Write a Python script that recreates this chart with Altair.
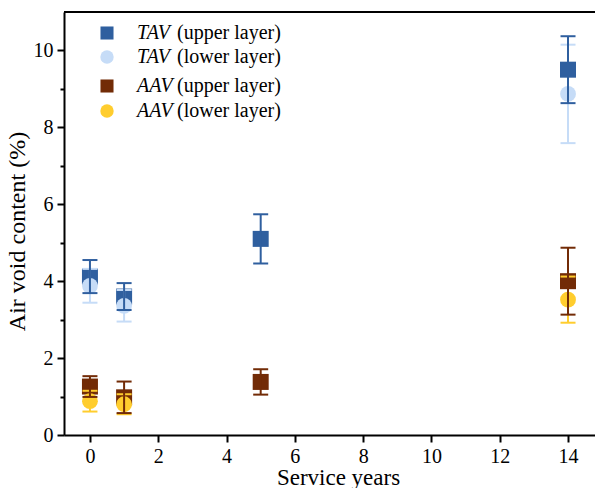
import altair as alt
import pandas as pd

# ---- data ----
years_tav_up = [0, 1, 5, 14]
tav_up = [4.12, 3.60, 5.10, 9.50]
tav_up_err = [0.43, 0.35, 0.64, 0.87]

years_tav_lo = [0, 1, 14]
tav_lo = [3.88, 3.36, 8.87]
tav_lo_err = [0.44, 0.41, 1.28]

years_aav_up = [0, 1, 5, 14]
aav_up = [1.26, 0.98, 1.38, 4.00]
aav_up_err = [0.27, 0.41, 0.33, 0.87]

years_aav_lo = [0, 1, 14]
aav_lo = [0.88, 0.80, 3.52]
aav_lo_err = [0.27, 0.26, 0.60]

x_ticks = list(range(0, 15))
y_ticks = list(range(0, 11))

FONT = "Liberation Serif"
C_TAV_UP = "#2F5F9F"
C_TAV_LO = "#C6DCF7"
C_AAV_UP = "#722B06"
C_AAV_LO = "#FFCD2E"


def frame(years, vals, errs):
    return pd.DataFrame({
        "year": years,
        "val": vals,
        "lo": [v - e for v, e in zip(vals, errs)],
        "hi": [v + e for v, e in zip(vals, errs)],
    })


xscale = alt.Scale(domain=[-0.76, 14.79], nice=False, zero=False)
yscale = alt.Scale(domain=[0, 11], nice=False)

tick_size = {"condition": {"test": "datum.value % 2 === 0", "value": 7}, "value": 4}

xaxis = alt.Axis(values=x_ticks, labelExpr="datum.value % 2 === 0 ? datum.label : ''",
                 title="Service years", grid=False, tickSize=tick_size, labelPadding=4,
                 titlePadding=0, titleFontSize=23, titleX=274, titleAlign="center")
yaxis = alt.Axis(values=y_ticks, labelExpr="datum.value % 2 === 0 ? datum.label : ''",
                 title="Air void content (%)", grid=False, tickSize=tick_size, labelPadding=4,
                 titlePadding=4, titleFontSize=24, titleY=219)


def markers(df, shape, color, size):
    return alt.Chart(df).mark_point(shape=shape, filled=True, opacity=1, size=size,
                                    color=color).encode(
        x=alt.X("year:Q", scale=xscale, axis=xaxis),
        y=alt.Y("val:Q", scale=yscale, axis=yaxis),
    )


def errbars(df, color):
    base = alt.Chart(df)
    rule = base.mark_rule(color=color, strokeWidth=2).encode(
        x=alt.X("year:Q", scale=xscale), y=alt.Y("lo:Q", scale=yscale), y2="hi:Q")
    cap_lo = base.mark_tick(color=color, orient="horizontal", size=15, thickness=2,
                            opacity=1).encode(
        x=alt.X("year:Q", scale=xscale), y=alt.Y("lo:Q", scale=yscale))
    cap_hi = base.mark_tick(color=color, orient="horizontal", size=15, thickness=2,
                            opacity=1).encode(
        x=alt.X("year:Q", scale=xscale), y=alt.Y("hi:Q", scale=yscale))
    return [rule, cap_lo, cap_hi]


d_tu = frame(years_tav_up, tav_up, tav_up_err)
d_tl = frame(years_tav_lo, tav_lo, tav_lo_err)
d_au = frame(years_aav_up, aav_up, aav_up_err)
d_al = frame(years_aav_lo, aav_lo, aav_lo_err)

layers = [
    markers(d_tu, "square", C_TAV_UP, 256),
    markers(d_au, "square", C_AAV_UP, 256),
    markers(d_tl, "circle", C_TAV_LO, 250),
    markers(d_al, "circle", C_AAV_LO, 250),
]
layers += errbars(d_tl, C_TAV_LO) + errbars(d_al, C_AAV_LO)
layers += errbars(d_tu, C_TAV_UP) + errbars(d_au, C_AAV_UP)

# top border line
layers.append(alt.Chart(pd.DataFrame({"a": [0]})).mark_rule(color="black", strokeWidth=2).encode(
    x=alt.value(0), x2=alt.value(531), y=alt.value(0)))

# manual legend (italic abbreviation + upright description)
legend_words = ["TAV", "TAV", "AAV", "AAV"]
legend_rest = ["(upper layer)", "(lower layer)", "(upper layer)", "(lower layer)"]
legend_shapes = ["square", "circle", "square", "circle"]
legend_colors = [C_TAV_UP, C_TAV_LO, C_AAV_UP, C_AAV_LO]
legend_sizes = [170, 180, 170, 180]
legend_y = [21, 45, 74, 99]

for w, r, s, c, sz, yy in zip(legend_words, legend_rest, legend_shapes, legend_colors,
                              legend_sizes, legend_y):
    src = alt.Chart(pd.DataFrame({"w": [w], "r": [r]}))
    layers.append(src.mark_point(shape=s, filled=True, opacity=1, size=sz, color=c).encode(
        x=alt.value(43), y=alt.value(yy)))
    layers.append(src.mark_text(font=FONT, fontStyle="italic", fontSize=20, align="left",
                                baseline="middle", color="black").encode(
        text="w:N", x=alt.value(73), y=alt.value(yy)))
    layers.append(src.mark_text(font=FONT, fontSize=20, align="left", baseline="middle",
                                color="black").encode(
        text="r:N", x=alt.value(113), y=alt.value(yy)))

chart = alt.layer(*layers).properties(
    width=531, height=423,
    autosize=alt.AutoSizeParams(type="none"),
    padding={"left": 64, "top": 12, "right": 0, "bottom": 53},
).configure(background="white").configure_view(stroke=None).configure_axis(
    domainColor="black", domainWidth=2, tickColor="black", tickWidth=2,
    labelFont=FONT, labelFontSize=20, labelColor="black",
    titleFont=FONT, titleColor="black", titleFontWeight="normal",
)

chart.save("out.html", embed_options={"renderer": "svg", "actions": False})
